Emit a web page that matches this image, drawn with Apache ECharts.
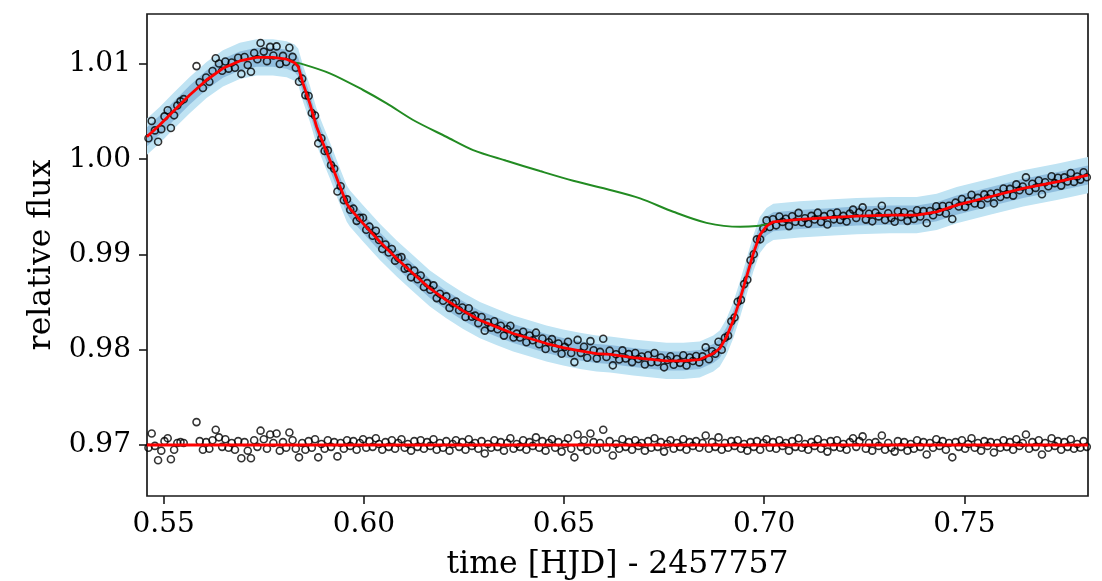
<!DOCTYPE html>
<html><head><meta charset="utf-8">
<script src="https://cdn.jsdelivr.net/npm/echarts@6/dist/echarts.min.js"></script>
<style>html,body{margin:0;padding:0;background:#fff}#c{width:1102px;height:581px}</style>
</head><body><div id="c"></div>
<script>
// ---- data ----
const xTicks = [0.55, 0.60, 0.65, 0.70, 0.75];
const yTicks = [0.97, 0.98, 0.99, 1.00, 1.01];
const xRange = [0.54583, 0.7809];
const yRange = [0.96464, 1.01525];

// fitted model (red)
const modelTime = [0.5458,0.5490,0.5523,0.5565,0.5607,0.5648,0.5690,0.5732,0.5773,0.5807,0.5827,0.5836,0.5848,0.5865,0.5882,0.5898,0.5915,0.5936,0.5957,0.5965,0.5998,0.6040,0.6082,0.6123,0.6165,0.6206,0.6248,0.6290,0.6331,0.6373,0.6415,0.6456,0.6498,0.6540,0.6581,0.6615,0.6673,0.6756,0.6798,0.6839,0.6873,0.6889,0.6906,0.6923,0.6939,0.6956,0.6973,0.6989,0.7006,0.7023,0.7089,0.7173,0.7231,0.7314,0.7381,0.7431,0.7481,0.7564,0.7647,0.7731,0.7809];
const modelFlux = [1.00236,1.00359,1.00499,1.00674,1.00832,1.00955,1.01032,1.01070,1.01070,1.01050,1.01014,1.00972,1.00797,1.00587,1.00341,1.00167,0.99991,0.99760,0.99536,0.99484,0.99326,0.99133,0.98958,0.98801,0.98643,0.98520,0.98408,0.98310,0.98240,0.98170,0.98118,0.98065,0.98023,0.97988,0.97960,0.97950,0.97918,0.97882,0.97882,0.97897,0.97960,0.98013,0.98135,0.98310,0.98520,0.98765,0.99011,0.99203,0.99298,0.99343,0.99368,0.99389,0.99403,0.99413,0.99413,0.99448,0.99518,0.99606,0.99694,0.99763,0.99834];
// uncertainty half-widths of the model bands
const bandOuterHalf = 0.0019;
const bandInnerHalf = 0.0010;

// second model component (green)
const greenTime = [0.5827,0.5840,0.5915,0.5998,0.6057,0.6123,0.6206,0.6273,0.6356,0.6440,0.6523,0.6606,0.6690,0.6773,0.6856,0.6940,0.6981,0.7015];
const greenFlux = [1.01014,1.01007,1.00902,1.00727,1.00587,1.00412,1.00236,1.00096,0.99984,0.99876,0.99774,0.99687,0.99589,0.99448,0.99332,0.99290,0.99298,0.99325];

// observations
const time = [0.5462,0.5470,0.5478,0.5486,0.5494,0.5502,0.5510,0.5518,0.5526,0.5534,0.5542,0.5550,
0.5582,0.5590,0.5598,0.5606,0.5614,0.5622,0.5630,0.5638,0.5646,0.5654,0.5662,0.5670,0.5678,0.5686,0.5694,0.5702,0.5710,0.5718,0.5726,0.5734,
0.5742,0.5750,0.5758,0.5766,0.5774,0.5782,0.5790,0.5798,0.5806,0.5814,0.5822,0.5830,0.5838,0.5846,0.5854,0.5862,0.5870,0.5878,0.5886,0.5894,
0.5902,0.5910,0.5918,0.5926,0.5934,0.5942,0.5950,0.5958,0.5966,0.5974,0.5982,0.5990,0.5998,0.6006,0.6014,0.6022,0.6030,0.6038,0.6046,0.6054,
0.6062,0.6070,0.6078,0.6086,0.6094,0.6102,0.6110,0.6118,0.6126,0.6134,0.6142,0.6150,0.6158,0.6166,0.6174,0.6182,0.6190,0.6198,0.6206,0.6214,
0.6222,0.6230,0.6238,0.6246,0.6254,0.6262,0.6270,0.6278,0.6286,0.6294,0.6302,0.6310,0.6318,0.6326,0.6334,0.6342,0.6350,0.6358,0.6366,0.6374,
0.6382,0.6390,0.6398,0.6406,0.6414,0.6422,0.6430,0.6438,0.6446,0.6454,0.6462,0.6470,0.6478,0.6486,0.6494,0.6502,0.6510,0.6518,0.6526,0.6534,
0.6542,0.6550,0.6558,0.6566,0.6574,0.6582,0.6590,0.6598,0.6606,0.6614,0.6622,0.6630,0.6638,0.6646,0.6654,0.6662,0.6670,0.6678,0.6686,0.6694,
0.6702,0.6710,0.6718,0.6726,0.6734,0.6742,0.6750,0.6758,0.6766,0.6774,0.6782,0.6790,0.6798,0.6806,0.6814,0.6822,0.6830,0.6838,0.6846,0.6854,
0.6862,0.6870,0.6878,0.6886,0.6894,0.6902,0.6910,0.6918,0.6926,0.6934,0.6942,0.6950,0.6958,0.6966,0.6974,0.6982,0.6990,0.6998,0.7006,0.7014,
0.7022,0.7030,0.7038,0.7046,0.7054,0.7062,0.7070,0.7078,0.7086,0.7094,0.7102,0.7110,0.7118,0.7126,0.7134,0.7142,0.7150,0.7158,0.7166,0.7174,
0.7182,0.7190,0.7198,0.7206,0.7214,0.7222,0.7230,0.7238,0.7246,0.7254,0.7262,0.7270,0.7278,0.7286,0.7294,0.7302,0.7310,0.7318,0.7326,0.7334,
0.7342,0.7350,0.7358,0.7366,0.7374,0.7382,0.7390,0.7398,0.7406,0.7414,0.7422,0.7430,0.7438,0.7446,0.7454,0.7462,0.7470,0.7478,0.7486,0.7494,
0.7502,0.7510,0.7518,0.7526,0.7534,0.7542,0.7550,0.7558,0.7566,0.7574,0.7582,0.7590,0.7598,0.7606,0.7614,0.7622,0.7630,0.7638,0.7646,0.7654,
0.7662,0.7670,0.7678,0.7686,0.7694,0.7702,0.7710,0.7718,0.7726,0.7734,0.7742,0.7750,0.7758,0.7766,0.7774,0.7782,0.7790,0.7798,0.7806];

const flux = [1.00221,1.00402,1.00303,1.00184,1.00316,1.00450,1.00514,1.00328,1.00461,1.00565,1.00608,1.00631,
1.00978,1.00808,1.00748,1.00858,1.00813,1.00927,1.01061,1.01005,1.00929,1.01026,1.00951,1.01015,1.00960,1.01065,1.00896,1.01073,1.00990,1.00918,1.01115,1.01050,
1.01220,1.01130,1.01030,1.01180,1.01090,1.01185,1.01000,1.01085,1.01021,1.01170,1.01075,1.00960,1.00813,1.00846,1.00673,1.00664,1.00485,1.00459,1.00167,1.00220,
1.00086,1.00093,0.99938,0.99900,0.99662,0.99716,0.99571,0.99579,0.99469,0.99481,0.99353,0.99384,0.99386,0.99259,0.99292,0.99196,0.99249,0.99152,0.99058,0.99105,
0.99021,0.99058,0.98935,0.98963,0.98972,0.98851,0.98861,0.98760,0.98830,0.98740,0.98780,0.98659,0.98699,0.98630,0.98676,0.98542,0.98588,0.98514,0.98560,0.98439,
0.98487,0.98506,0.98415,0.98443,0.98344,0.98435,0.98347,0.98358,0.98279,0.98343,0.98200,0.98286,0.98232,0.98299,0.98215,0.98252,0.98148,0.98215,0.98252,0.98129,
0.98169,0.98129,0.98189,0.98079,0.98149,0.98099,0.98179,0.98058,0.98118,0.98008,0.98079,0.98111,0.98013,0.98065,0.97957,0.98030,0.98083,0.97966,0.97870,0.98103,
0.97967,0.98031,0.97916,0.98090,0.97995,0.97909,0.97977,0.98115,0.97923,0.97990,0.97836,0.97952,0.97897,0.97993,0.97908,0.97954,0.97870,0.97966,0.97902,0.97929,
0.97845,0.97942,0.97868,0.97965,0.97871,0.97918,0.97815,0.97892,0.97932,0.97842,0.97902,0.97862,0.97942,0.97835,0.97918,0.97881,0.97934,0.97867,0.97930,0.98025,
0.97900,0.97984,0.97957,0.98083,0.97999,0.98126,0.98146,0.98298,0.98339,0.98504,0.98523,0.98689,0.98734,0.98940,0.99003,0.99159,0.99159,0.99273,0.99358,0.99289,
0.99370,0.99306,0.99399,0.99342,0.99375,0.99298,0.99401,0.99344,0.99437,0.99339,0.99381,0.99323,0.99405,0.99367,0.99439,0.99341,0.99403,0.99315,0.99427,0.99369,
0.99441,0.99363,0.99405,0.99347,0.99429,0.99471,0.99383,0.99444,0.99495,0.99366,0.99427,0.99348,0.99439,0.99400,0.99511,0.99362,0.99433,0.99383,0.99343,0.99453,
0.99393,0.99443,0.99353,0.99423,0.99373,0.99464,0.99399,0.99455,0.99331,0.99456,0.99412,0.99507,0.99448,0.99509,0.99430,0.99511,0.99373,0.99544,0.99503,0.99582,
0.99500,0.99559,0.99627,0.99536,0.99594,0.99523,0.99631,0.99590,0.99638,0.99537,0.99645,0.99604,0.99692,0.99631,0.99689,0.99618,0.99736,0.99675,0.99713,0.99810,
0.99666,0.99743,0.99699,0.99776,0.99632,0.99759,0.99716,0.99822,0.99749,0.99806,0.99723,0.99810,0.99767,0.99855,0.99762,0.99819,0.99786,0.99864,0.99811];

// residuals, drawn offset to 0.97
const residual = [0.96970,0.97120,0.96990,0.96840,0.96940,0.97040,0.97070,0.96850,0.96950,0.97020,0.97030,0.97020,
0.97240,0.97040,0.96950,0.97030,0.96960,0.97050,0.97160,0.97080,0.96980,0.97060,0.96970,0.97020,0.96950,0.97040,0.96860,0.97030,0.96940,0.96860,0.97050,0.96980,
0.97150,0.97060,0.96960,0.97110,0.97020,0.97120,0.96940,0.97030,0.96970,0.97130,0.97050,0.96960,0.96870,0.97020,0.96950,0.97040,0.96970,0.97060,0.96870,0.97010,
0.96960,0.97050,0.96980,0.97030,0.96880,0.97020,0.96960,0.97050,0.96990,0.97040,0.96950,0.97020,0.97060,0.96970,0.97040,0.96980,0.97070,0.97010,0.96950,0.97030,
0.96980,0.97050,0.96960,0.97020,0.97060,0.96970,0.97010,0.96940,0.97040,0.96980,0.97050,0.96960,0.97030,0.96990,0.97060,0.96950,0.97020,0.96970,0.97040,0.96940,
0.97010,0.97050,0.96980,0.97030,0.96950,0.97060,0.96990,0.97020,0.96960,0.97040,0.96910,0.97010,0.96970,0.97050,0.96980,0.97030,0.96940,0.97020,0.97070,0.96960,
0.97010,0.96980,0.97050,0.96950,0.97030,0.96990,0.97080,0.96970,0.97040,0.96940,0.97020,0.97060,0.96970,0.97030,0.96930,0.97010,0.97070,0.96960,0.96870,0.97110,
0.96980,0.97050,0.96940,0.97120,0.97030,0.96950,0.97020,0.97160,0.96970,0.97040,0.96890,0.97010,0.96960,0.97060,0.96980,0.97030,0.96950,0.97050,0.96990,0.97020,
0.96940,0.97040,0.96970,0.97070,0.96980,0.97030,0.96930,0.97010,0.97050,0.96960,0.97020,0.96980,0.97060,0.96950,0.97030,0.96990,0.97040,0.96970,0.97020,0.97100,
0.96960,0.97030,0.96980,0.97080,0.96950,0.97020,0.96970,0.97040,0.96990,0.97050,0.96960,0.97010,0.96940,0.97030,0.96980,0.97040,0.96950,0.97020,0.97060,0.96970,
0.97030,0.96960,0.97050,0.96990,0.97020,0.96940,0.97040,0.96980,0.97070,0.96970,0.97010,0.96950,0.97030,0.96990,0.97060,0.96960,0.97020,0.96930,0.97040,0.96980,
0.97050,0.96970,0.97010,0.96950,0.97030,0.97070,0.96980,0.97040,0.97090,0.96960,0.97020,0.96940,0.97030,0.96990,0.97100,0.96950,0.97020,0.96970,0.96930,0.97040,
0.96980,0.97030,0.96940,0.97010,0.96960,0.97050,0.96980,0.97030,0.96900,0.97020,0.96970,0.97060,0.96990,0.97040,0.96950,0.97020,0.96870,0.97030,0.96980,0.97050,
0.96960,0.97010,0.97070,0.96970,0.97020,0.96940,0.97040,0.96990,0.97030,0.96920,0.97020,0.96970,0.97050,0.96980,0.97030,0.96950,0.97060,0.96990,0.97020,0.97110,
0.96960,0.97030,0.96980,0.97050,0.96900,0.97020,0.96970,0.97070,0.96990,0.97040,0.96950,0.97030,0.96980,0.97060,0.96960,0.97010,0.96970,0.97040,0.96980];
const residualZeroTime = [0.5458, 0.7809];
const residualZeroFlux = [0.97, 0.97];

// ---- chart ----
const FONT = 'DejaVu Serif';
const zip = (a, b) => a.map((v, i) => [v, b[i]]);

function band(half, color, z) {
  return {
    type: 'custom', z: z, silent: true, clip: true,
    data: [[modelTime[0], modelFlux[0]]],
    renderItem: function (params, api) {
      const pts = [];
      for (let i = 0; i < modelTime.length; i++) pts.push(api.coord([modelTime[i], modelFlux[i] + half]));
      for (let i = modelTime.length - 1; i >= 0; i--) pts.push(api.coord([modelTime[i], modelFlux[i] - half]));
      return { type: 'polygon', shape: { points: pts }, style: { fill: color } };
    }
  };
}

const chart = echarts.init(document.getElementById('c'), null, { renderer: 'canvas' });
chart.setOption({
  animation: false,
  backgroundColor: '#fff',
  grid: { left: 147, right: 14, top: 14, bottom: 85, outerBoundsMode: 'none', containLabel: false, show: true, borderColor: '#1a1a1a', borderWidth: 1.7, backgroundColor: 'transparent' },
  xAxis: {
    type: 'value', min: xRange[0], max: xRange[1],
    name: 'time [HJD] - 2457757', nameLocation: 'middle', nameGap: 53,
    nameTextStyle: { fontFamily: FONT, fontSize: 31.5, color: '#000' },
    axisLine: { show: false },
    splitLine: { show: false },
    axisTick: { show: true, inside: false, length: 8, customValues: xTicks, lineStyle: { color: '#1a1a1a', width: 1.6 } },
    axisLabel: { customValues: xTicks, margin: 15, fontFamily: FONT, fontSize: 28, color: '#000', formatter: v => v.toFixed(2) }
  },
  yAxis: {
    type: 'value', min: yRange[0], max: yRange[1],
    name: 'relative flux', nameLocation: 'middle', nameGap: 85, nameRotate: 90,
    nameTextStyle: { fontFamily: FONT, fontSize: 31.5, color: '#000' },
    axisLine: { show: false },
    splitLine: { show: false },
    axisTick: { show: true, inside: false, length: 8, customValues: yTicks, lineStyle: { color: '#1a1a1a', width: 1.6 } },
    axisLabel: { customValues: yTicks, margin: 16, fontFamily: FONT, fontSize: 28, color: '#000', formatter: v => v.toFixed(2) }
  },
  series: [
    band(bandOuterHalf, '#bfe3f3', 1),
    band(bandInnerHalf, '#8fbddd', 2),
    {
      type: 'scatter', z: 3, silent: true, data: zip(time, flux),
      symbol: 'circle', symbolSize: 7,
      itemStyle: { color: 'rgba(0,0,0,0)', borderColor: '#000', borderWidth: 1.6 }
    },
    {
      type: 'scatter', z: 3, silent: true, data: zip(time, residual),
      symbol: 'circle', symbolSize: 7,
      itemStyle: { color: 'rgba(0,0,0,0)', borderColor: '#000', borderWidth: 1.6 }
    },
    {
      type: 'line', z: 4, silent: true, data: zip(greenTime, greenFlux), showSymbol: false, smooth: 0.3,
      lineStyle: { color: '#228b22', width: 2 }
    },
    {
      type: 'line', z: 5, silent: true, data: zip(modelTime, modelFlux), showSymbol: false,
      lineStyle: { color: '#ff0000', width: 2.8 }
    },
    {
      type: 'line', z: 5, silent: true, data: zip(residualZeroTime, residualZeroFlux), showSymbol: false,
      lineStyle: { color: '#ff0000', width: 3 }
    }
  ]
});
</script>
</body></html>
